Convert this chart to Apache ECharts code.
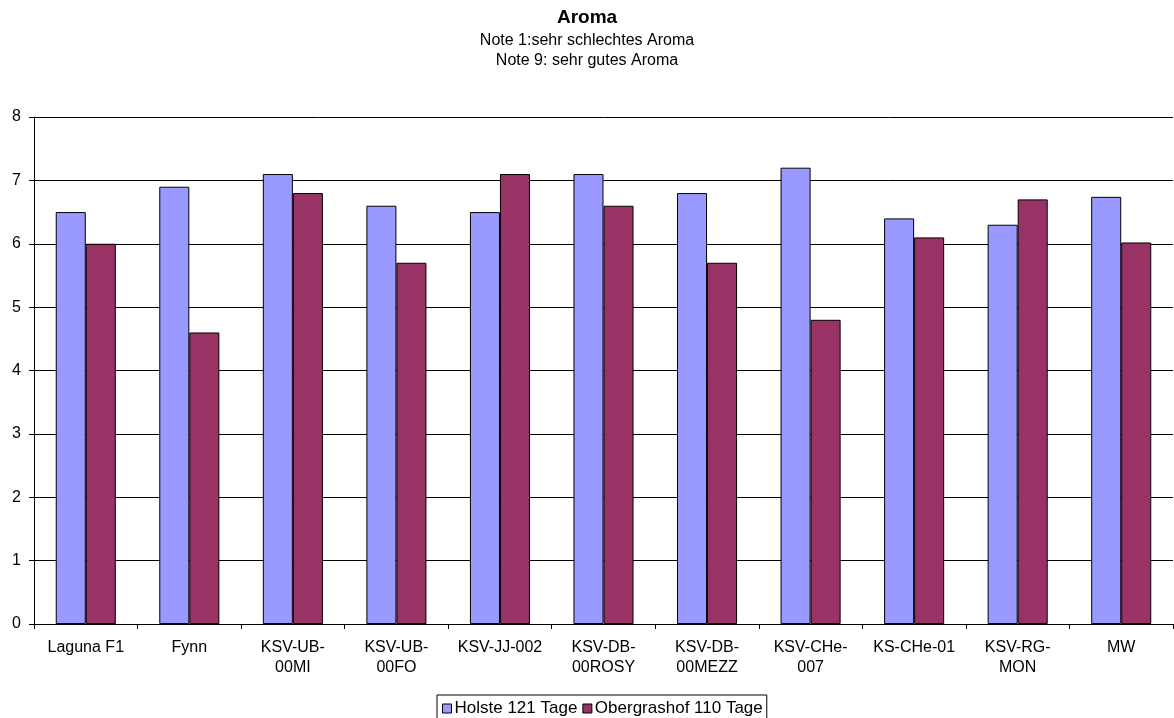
<!DOCTYPE html>
<html><head><meta charset="utf-8">
<script src="https://cdn.jsdelivr.net/npm/echarts@6/dist/echarts.min.js"></script>
<style>html,body{margin:0;padding:0;background:#fff}#c{width:1174px;height:718px}</style>
</head><body><div id="c"></div>
<script>
const categories = ["Laguna F1","Fynn","KSV-UB-\n00MI","KSV-UB-\n00FO","KSV-JJ-002","KSV-DB-\n00ROSY","KSV-DB-\n00MEZZ","KSV-CHe-\n007","KS-CHe-01","KSV-RG-\nMON","MW"];
const holste = [6.5,6.9,7.1,6.6,6.5,7.1,6.8,7.2,6.4,6.3,6.74];
const obergrashof = [6.0,4.6,6.8,5.7,7.1,6.6,5.7,4.8,6.1,6.7,6.02];
const seriesNames = ["Holste 121 Tage","Obergrashof 110 Tage"];
const yTicks = [0,1,2,3,4,5,6,7,8];

const chart = echarts.init(document.getElementById('c'), null, {renderer:'canvas'});
const ff = 'Liberation Sans, Arial, sans-serif';
chart.setOption({
  animation:false,
  backgroundColor:'#fff',
  title:{
    text:'Aroma',
    subtext:'Note 1:sehr schlechtes Aroma\nNote 9: sehr gutes Aroma',
    left:'center', top:8, itemGap:4, padding:0,
    textStyle:{fontFamily:ff,fontSize:19,fontWeight:'bold',color:'#000',lineHeight:19},
    subtextStyle:{fontFamily:ff,fontSize:16,color:'#000',lineHeight:20}
  },
  legend:{
    bottom:-2, left:437,
    itemWidth:9,itemHeight:9,itemGap:5,
    borderColor:'#000',borderWidth:1,padding:[5,4,3,5],
    textStyle:{fontFamily:ff,fontSize:17,color:'#000',padding:[0,0,0,-2]},
    icon:'rect',
    data:seriesNames.map(n=>({name:n,itemStyle:{borderColor:'#000',borderWidth:1}}))
  },
  grid:{left:34,right:1,top:117,bottom:94,containLabel:false},
  xAxis:{
    type:'category',data:categories,
    axisLine:{lineStyle:{color:'#000',width:1}},
    axisTick:{show:true,length:5,lineStyle:{color:'#000'}},
    axisLabel:{fontFamily:ff,fontSize:16,color:'#000',margin:14,lineHeight:20,interval:0}
  },
  yAxis:{
    type:'value',min:yTicks[0],max:yTicks[yTicks.length-1],interval:1,
    axisLine:{show:true,lineStyle:{color:'#000'}},
    axisTick:{show:true,length:5,lineStyle:{color:'#000'}},
    axisLabel:{fontFamily:ff,fontSize:16,color:'#000',margin:13},
    splitLine:{lineStyle:{color:'#000',width:1}}
  },
  series:[
    {name:seriesNames[0],type:'bar',data:holste,barGap:'0%',barCategoryGap:'42%',
     itemStyle:{color:'#9999FF',borderColor:'#000',borderWidth:1}},
    {name:seriesNames[1],type:'bar',data:obergrashof,
     itemStyle:{color:'#993366',borderColor:'#000',borderWidth:1}}
  ]
});
</script></body></html>
